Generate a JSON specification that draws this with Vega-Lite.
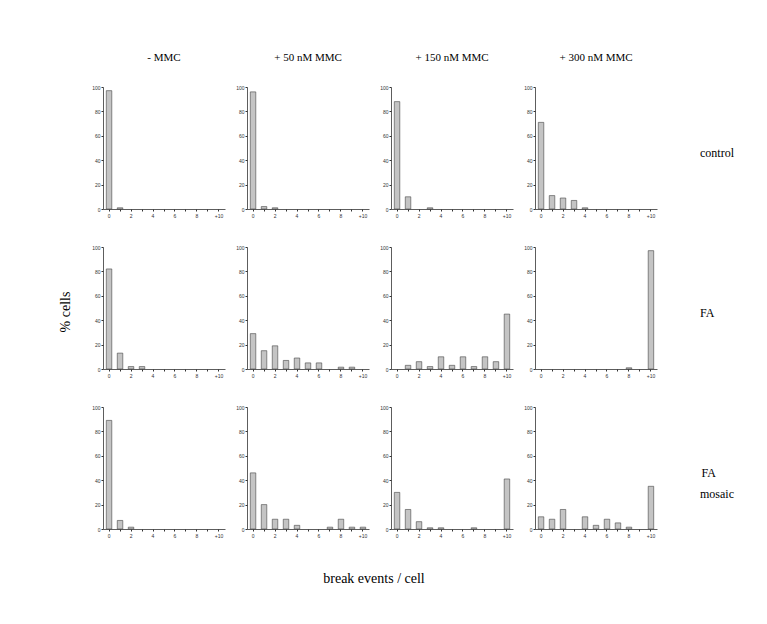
{
  "$schema": "https://vega.github.io/schema/vega-lite/v6.json",
  "background": "white",
  "padding": {"left": 59, "top": 52, "right": 10, "bottom": 10},
  "config": {
    "view": {"stroke": null},
    "font": "Liberation Serif"
  },
  "data": {"values": [
    {"group": "control", "dose": "- MMC", "breaks": 0, "pct": 97},
    {"group": "control", "dose": "- MMC", "breaks": 1, "pct": 1},
    {"group": "control", "dose": "+ 50 nM MMC", "breaks": 0, "pct": 96},
    {"group": "control", "dose": "+ 50 nM MMC", "breaks": 1, "pct": 2},
    {"group": "control", "dose": "+ 50 nM MMC", "breaks": 2, "pct": 1},
    {"group": "control", "dose": "+ 150 nM MMC", "breaks": 0, "pct": 88},
    {"group": "control", "dose": "+ 150 nM MMC", "breaks": 1, "pct": 10},
    {"group": "control", "dose": "+ 150 nM MMC", "breaks": 3, "pct": 1},
    {"group": "control", "dose": "+ 300 nM MMC", "breaks": 0, "pct": 71},
    {"group": "control", "dose": "+ 300 nM MMC", "breaks": 1, "pct": 11},
    {"group": "control", "dose": "+ 300 nM MMC", "breaks": 2, "pct": 9},
    {"group": "control", "dose": "+ 300 nM MMC", "breaks": 3, "pct": 7},
    {"group": "control", "dose": "+ 300 nM MMC", "breaks": 4, "pct": 1},
    {"group": "FA", "dose": "- MMC", "breaks": 0, "pct": 82},
    {"group": "FA", "dose": "- MMC", "breaks": 1, "pct": 13},
    {"group": "FA", "dose": "- MMC", "breaks": 2, "pct": 2},
    {"group": "FA", "dose": "- MMC", "breaks": 3, "pct": 2},
    {"group": "FA", "dose": "+ 50 nM MMC", "breaks": 0, "pct": 29},
    {"group": "FA", "dose": "+ 50 nM MMC", "breaks": 1, "pct": 15},
    {"group": "FA", "dose": "+ 50 nM MMC", "breaks": 2, "pct": 19},
    {"group": "FA", "dose": "+ 50 nM MMC", "breaks": 3, "pct": 7},
    {"group": "FA", "dose": "+ 50 nM MMC", "breaks": 4, "pct": 9},
    {"group": "FA", "dose": "+ 50 nM MMC", "breaks": 5, "pct": 5},
    {"group": "FA", "dose": "+ 50 nM MMC", "breaks": 6, "pct": 5},
    {"group": "FA", "dose": "+ 50 nM MMC", "breaks": 8, "pct": 1.5},
    {"group": "FA", "dose": "+ 50 nM MMC", "breaks": 9, "pct": 1.5},
    {"group": "FA", "dose": "+ 150 nM MMC", "breaks": 1, "pct": 3},
    {"group": "FA", "dose": "+ 150 nM MMC", "breaks": 2, "pct": 6},
    {"group": "FA", "dose": "+ 150 nM MMC", "breaks": 3, "pct": 2},
    {"group": "FA", "dose": "+ 150 nM MMC", "breaks": 4, "pct": 10},
    {"group": "FA", "dose": "+ 150 nM MMC", "breaks": 5, "pct": 3},
    {"group": "FA", "dose": "+ 150 nM MMC", "breaks": 6, "pct": 10},
    {"group": "FA", "dose": "+ 150 nM MMC", "breaks": 7, "pct": 2},
    {"group": "FA", "dose": "+ 150 nM MMC", "breaks": 8, "pct": 10},
    {"group": "FA", "dose": "+ 150 nM MMC", "breaks": 9, "pct": 6},
    {"group": "FA", "dose": "+ 150 nM MMC", "breaks": 10, "pct": 45},
    {"group": "FA", "dose": "+ 300 nM MMC", "breaks": 8, "pct": 1},
    {"group": "FA", "dose": "+ 300 nM MMC", "breaks": 10, "pct": 97},
    {"group": "FA mosaic", "dose": "- MMC", "breaks": 0, "pct": 89},
    {"group": "FA mosaic", "dose": "- MMC", "breaks": 1, "pct": 7},
    {"group": "FA mosaic", "dose": "- MMC", "breaks": 2, "pct": 1.5},
    {"group": "FA mosaic", "dose": "+ 50 nM MMC", "breaks": 0, "pct": 46},
    {"group": "FA mosaic", "dose": "+ 50 nM MMC", "breaks": 1, "pct": 20},
    {"group": "FA mosaic", "dose": "+ 50 nM MMC", "breaks": 2, "pct": 8},
    {"group": "FA mosaic", "dose": "+ 50 nM MMC", "breaks": 3, "pct": 8},
    {"group": "FA mosaic", "dose": "+ 50 nM MMC", "breaks": 4, "pct": 3},
    {"group": "FA mosaic", "dose": "+ 50 nM MMC", "breaks": 7, "pct": 1.5},
    {"group": "FA mosaic", "dose": "+ 50 nM MMC", "breaks": 8, "pct": 8},
    {"group": "FA mosaic", "dose": "+ 50 nM MMC", "breaks": 9, "pct": 1.5},
    {"group": "FA mosaic", "dose": "+ 50 nM MMC", "breaks": 10, "pct": 1.5},
    {"group": "FA mosaic", "dose": "+ 150 nM MMC", "breaks": 0, "pct": 30},
    {"group": "FA mosaic", "dose": "+ 150 nM MMC", "breaks": 1, "pct": 16},
    {"group": "FA mosaic", "dose": "+ 150 nM MMC", "breaks": 2, "pct": 6},
    {"group": "FA mosaic", "dose": "+ 150 nM MMC", "breaks": 3, "pct": 1},
    {"group": "FA mosaic", "dose": "+ 150 nM MMC", "breaks": 4, "pct": 1},
    {"group": "FA mosaic", "dose": "+ 150 nM MMC", "breaks": 7, "pct": 1},
    {"group": "FA mosaic", "dose": "+ 150 nM MMC", "breaks": 10, "pct": 41},
    {"group": "FA mosaic", "dose": "+ 300 nM MMC", "breaks": 0, "pct": 10},
    {"group": "FA mosaic", "dose": "+ 300 nM MMC", "breaks": 1, "pct": 8},
    {"group": "FA mosaic", "dose": "+ 300 nM MMC", "breaks": 2, "pct": 16},
    {"group": "FA mosaic", "dose": "+ 300 nM MMC", "breaks": 4, "pct": 10},
    {"group": "FA mosaic", "dose": "+ 300 nM MMC", "breaks": 5, "pct": 3},
    {"group": "FA mosaic", "dose": "+ 300 nM MMC", "breaks": 6, "pct": 8},
    {"group": "FA mosaic", "dose": "+ 300 nM MMC", "breaks": 7, "pct": 5},
    {"group": "FA mosaic", "dose": "+ 300 nM MMC", "breaks": 8, "pct": 1.5},
    {"group": "FA mosaic", "dose": "+ 300 nM MMC", "breaks": 10, "pct": 35}
  ]},
  "facet": {
    "row": {
      "field": "group", "type": "nominal",
      "sort": ["control", "FA", "FA mosaic"],
      "title": "% cells",
      "header": {
        "titleOrient": "left", "titleFont": "Liberation Serif", "titleFontSize": 14, "titleFontWeight": "normal", "titlePadding": 8,
        "labelOrient": "right", "labelAngle": 0, "labelAlign": "right", "labelBaseline": "top", "labelLineHeight": 21,
        "labelFont": "Liberation Serif", "labelFontSize": 12, "labelPadding": 43,
        "labelExpr": "datum.value == 'FA mosaic' ? ['FA\u00a0\u00a0\u00a0\u00a0\u00a0\u00a0\u200b', 'mosaic'] : datum.value"
      }
    },
    "column": {
      "field": "dose", "type": "nominal",
      "sort": ["- MMC", "+ 50 nM MMC", "+ 150 nM MMC", "+ 300 nM MMC"],
      "title": "break events / cell",
      "header": {
        "titleOrient": "bottom", "titleFont": "Liberation Serif", "titleFontSize": 14, "titleFontWeight": "normal", "titlePadding": 24,
        "labelOrient": "top", "labelFont": "Liberation Serif", "labelFontSize": 11, "labelPadding": 22
      }
    }
  },
  "spacing": {"row": 27, "column": 10},
  "resolve": {"axis": {"x": "independent", "y": "independent"}},
  "spec": {
    "width": 122,
    "height": 122,
    "mark": {"type": "bar", "fill": "#c4c4c4", "stroke": "#444444", "strokeWidth": 0.6},
    "encoding": {
      "x": {
        "field": "breaks", "type": "ordinal",
        "scale": {"domain": [0, 1, 2, 3, 4, 5, 6, 7, 8, 9, 10], "paddingInner": 0.5, "paddingOuter": 0.3},
        "axis": {
          "title": null, "labelAngle": 0, "labelFont": "Liberation Sans", "labelFontSize": 5, "labelColor": "#333",
          "labelOverlap": false, "tickSize": 2, "tickColor": "#333", "domainColor": "#333", "domainWidth": 0.8,
          "labelExpr": "datum.value % 2 == 0 ? (datum.value == 10 ? '+10' : datum.value) : ''"
        }
      },
      "y": {
        "field": "pct", "type": "quantitative",
        "scale": {"domain": [0, 100]},
        "axis": {
          "title": null, "values": [0, 20, 40, 60, 80, 100], "grid": false,
          "labelFont": "Liberation Sans", "labelFontSize": 5, "labelColor": "#333",
          "tickSize": 2, "tickColor": "#333", "domainColor": "#333", "domainWidth": 0.8, "labelPadding": 1
        }
      }
    }
  }
}
